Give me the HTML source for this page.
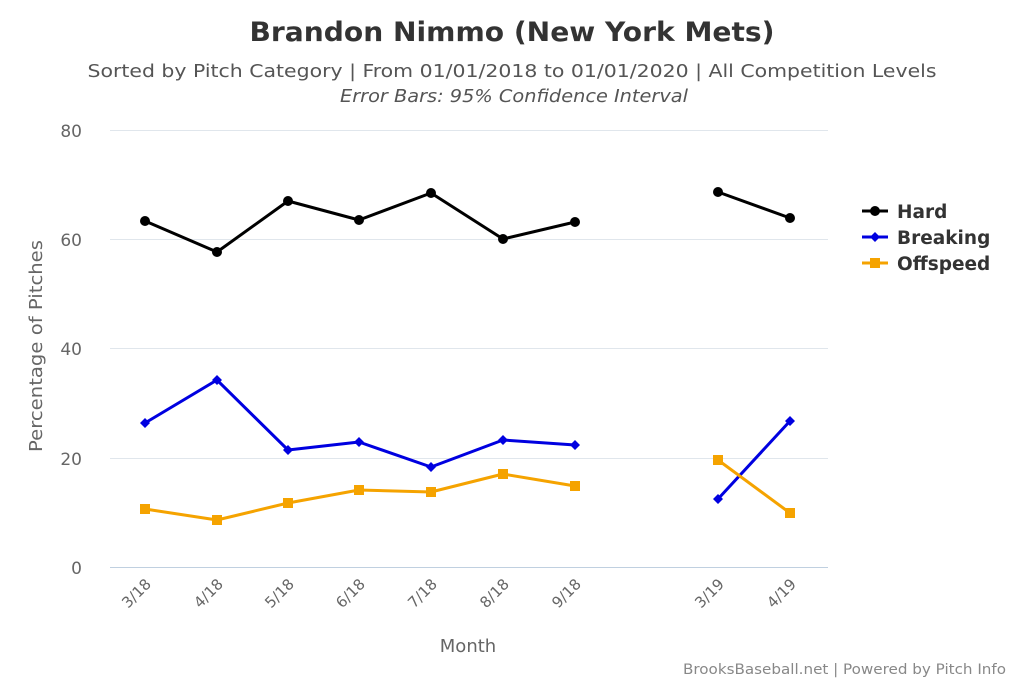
<!DOCTYPE html>
<html><head><meta charset="utf-8"><style>body{margin:0;background:#fff}svg{display:block}</style></head><body>
<svg width="1024" height="683" xmlns="http://www.w3.org/2000/svg" font-family="'DejaVu Sans', sans-serif">
<rect width="1024" height="683" fill="#fff"/>
<text x="512" y="41" text-anchor="middle" font-size="27" font-weight="bold" fill="#333" textLength="525" lengthAdjust="spacingAndGlyphs">Brandon Nimmo (New York Mets)</text>
<text x="512" y="77" text-anchor="middle" font-size="18" fill="#555" textLength="849" lengthAdjust="spacingAndGlyphs">Sorted by Pitch Category | From 01/01/2018 to 01/01/2020 | All Competition Levels</text>
<text x="514" y="102" text-anchor="middle" font-size="18" font-style="italic" fill="#555" textLength="348" lengthAdjust="spacingAndGlyphs">Error Bars: 95% Confidence Interval</text>
<g stroke="#e0e6ec" stroke-width="1">
<line x1="110" x2="828" y1="130.5" y2="130.5"/><line x1="110" x2="828" y1="239.5" y2="239.5"/><line x1="110" x2="828" y1="348.5" y2="348.5"/><line x1="110" x2="828" y1="458.5" y2="458.5"/>
</g>
<line x1="110" x2="828" y1="567.5" y2="567.5" stroke="#c0d0e0"/>
<g font-size="17" fill="#666" text-anchor="end">
<text x="82" y="137">80</text><text x="82" y="246">60</text><text x="82" y="355">40</text><text x="82" y="465">20</text><text x="82" y="574">0</text>
</g>
<text transform="translate(42,346) rotate(-90)" text-anchor="middle" font-size="18" fill="#666" textLength="212" lengthAdjust="spacingAndGlyphs">Percentage of Pitches</text>
<text x="468" y="652" text-anchor="middle" font-size="18" fill="#666">Month</text>
<g font-size="15" fill="#666" text-anchor="end">
<text transform="translate(152,585) rotate(-45)">3/18</text>
<text transform="translate(224,585) rotate(-45)">4/18</text>
<text transform="translate(295,585) rotate(-45)">5/18</text>
<text transform="translate(366,585) rotate(-45)">6/18</text>
<text transform="translate(438,585) rotate(-45)">7/18</text>
<text transform="translate(510,585) rotate(-45)">8/18</text>
<text transform="translate(582,585) rotate(-45)">9/18</text>
<text transform="translate(725,585) rotate(-45)">3/19</text>
<text transform="translate(797,585) rotate(-45)">4/19</text>
</g>
<g fill="none" stroke-width="3" stroke-linejoin="round">
<polyline stroke="#000" points="145,221 217,252 288,201 359,220 431,193 503,239 575,222"/>
<polyline stroke="#000" points="718,192 790,218"/>
<polyline stroke="#0000e0" points="145,423 217,380 288,450 359,442 431,467 503,440 575,445"/>
<polyline stroke="#0000e0" points="718,499 790,421"/>
<polyline stroke="#f5a300" points="145,509 217,520 288,503 359,490 431,492 503,474 575,486"/>
<polyline stroke="#f5a300" points="718,460 790,513"/>
</g>
<g fill="#000">
<circle cx="145" cy="221" r="5"/><circle cx="217" cy="252" r="5"/><circle cx="288" cy="201" r="5"/><circle cx="359" cy="220" r="5"/><circle cx="431" cy="193" r="5"/><circle cx="503" cy="239" r="5"/><circle cx="575" cy="222" r="5"/><circle cx="718" cy="192" r="5"/><circle cx="790" cy="218" r="5"/>
</g>
<g fill="#0000e0">
<path d="M145 418l5 5-5 5-5-5z M217 375l5 5-5 5-5-5z M288 445l5 5-5 5-5-5z M359 437l5 5-5 5-5-5z M431 462l5 5-5 5-5-5z M503 435l5 5-5 5-5-5z M575 440l5 5-5 5-5-5z M718 494l5 5-5 5-5-5z M790 416l5 5-5 5-5-5z"/>
</g>
<g fill="#f5a300">
<rect x="140" y="504" width="10" height="10"/><rect x="212" y="515" width="10" height="10"/><rect x="283" y="498" width="10" height="10"/><rect x="354" y="485" width="10" height="10"/><rect x="426" y="487" width="10" height="10"/><rect x="498" y="469" width="10" height="10"/><rect x="570" y="481" width="10" height="10"/><rect x="713" y="455" width="10" height="10"/><rect x="785" y="508" width="10" height="10"/>
</g>
<g stroke-width="3">
<line x1="862" x2="888" y1="211" y2="211" stroke="#000"/><circle cx="875" cy="211" r="5" fill="#000"/>
<line x1="862" x2="888" y1="237" y2="237" stroke="#0000e0"/><path d="M875 232l5 5-5 5-5-5z" fill="#0000e0"/>
<line x1="862" x2="888" y1="263" y2="263" stroke="#f5a300"/><rect x="870" y="258" width="10" height="10" fill="#f5a300"/>
</g>
<g font-size="18.5" font-weight="bold" fill="#333">
<text x="897" y="218">Hard</text><text x="897" y="244">Breaking</text><text x="897" y="270">Offspeed</text>
</g>
<text x="1006" y="674" text-anchor="end" font-size="14" fill="#888" textLength="323" lengthAdjust="spacingAndGlyphs">BrooksBaseball.net | Powered by Pitch Info</text>
</svg>
</body></html>
